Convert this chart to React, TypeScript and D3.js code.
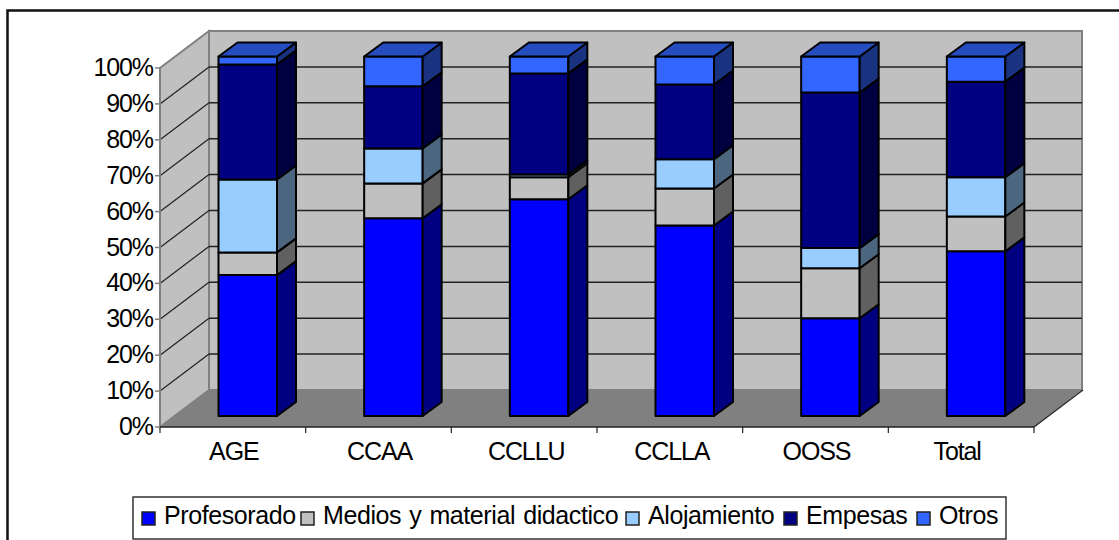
import React from 'react';
import * as d3 from 'd3';

const categories = ['AGE', 'CCAA', 'CCLLU', 'CCLLA', 'OOSS', 'Total'];
const seriesNames = ['Profesorado', 'Medios y material didactico', 'Alojamiento', 'Empesas', 'Otros'];
const profesorado = [39.2, 55, 60.3, 53, 27.2, 45.8];
const medios = [6.3, 9.7, 6.1, 10.3, 13.9, 9.7];
const alojamiento = [20.3, 9.7, 0.8, 8.1, 5.6, 10.9];
const empresas = [32, 17.3, 28.1, 20.8, 43.3, 26.6];
const otros = [2.2, 8.3, 4.7, 7.8, 10, 7];
const seriesValues = [profesorado, medios, alojamiento, empresas, otros];
const yTicks = d3.range(0, 101, 10);

const faceColors = ['#0000ff', '#c0c0c0', '#99ccff', '#000080', '#3366ff'];
const sideColors = ['#000080', '#606060', '#4d6680', '#000040', '#1a3380'];
const topColor = '#264dbf';

const font = '"Liberation Sans", Arial, sans-serif';
const W = 1119;
const H = 540;

// front edge of the floor, the walls sit behind it by wallDx / wallDy
const left = 160;
const right = 1034;
const floorY = 427;
const topY = 68;
const wallDx = 49;
const wallDy = 37;
// bars stand a bit inside the floor
const barBase = 416;
const barTop = 56.5;
const barInset = 58.5;
const barWidth = 58.5;
const barDx = 19;
const barDy = 14;

const pts = (p: number[][]) => p.map((d) => d.join(',')).join(' ');

function Walls() {
  const y = d3.scaleLinear().domain([0, 100]).range([floorY, topY]);
  const backY = d3.scaleLinear().domain([0, 100]).range([floorY - wallDy, topY - wallDy]);
  const backL = left + wallDx;
  const backR = right + wallDx - 1;
  return (
    <g>
      <polygon
        points={pts([[backL, backY(0)], [backR, backY(0)], [backR, backY(100)], [backL, backY(100)]])}
        fill="#c0c0c0" stroke="#808080" strokeWidth={2}
      />
      <polygon
        points={pts([[left, y(0)], [backL, backY(0)], [backL, backY(100)], [left, y(100)]])}
        fill="#c0c0c0" stroke="#808080" strokeWidth={2}
      />
      <polygon
        points={pts([[left, y(0)], [right, y(0)], [backR, backY(0)], [backL, backY(0)]])}
        fill="#808080"
      />
      {yTicks.filter((t) => t > 0 && t < 100).map((t) => (
        <line key={t} x1={backL} x2={backR} y1={backY(t)} y2={backY(t)} stroke="#222" strokeWidth={1.5} />
      ))}
      {yTicks.filter((t) => t > 0 && t < 100).map((t) => (
        <line key={t} x1={left} x2={backL} y1={y(t)} y2={backY(t)} stroke="#222" strokeWidth={1.2} />
      ))}
    </g>
  );
}

function Bars() {
  const x = d3.scaleBand().domain(categories).range([left, right]);
  const y = d3.scaleLinear().domain([0, 100]).range([barBase, barTop]);
  const stacked = d3.stack<number>()
    .keys(seriesNames.map((_, i) => i) as any)
    .value((d, k) => seriesValues[k as any][d])(categories.map((_, i) => i));

  return (
    <g stroke="#000" strokeWidth={2} strokeLinejoin="round">
      {categories.map((c, ci) => {
        const x0 = (x(c) as number) + barInset;
        const x1 = x0 + barWidth;
        const last = stacked[stacked.length - 1][ci][1];
        return (
          <g key={c}>
            {stacked.map((s, si) => {
              const y0 = y(s[ci][0]);
              const y1 = y(s[ci][1]);
              return (
                <g key={si}>
                  <rect x={x0} y={y1} width={barWidth} height={y0 - y1} fill={faceColors[si]} />
                  <polygon
                    points={pts([[x1, y0], [x1 + barDx, y0 - barDy], [x1 + barDx, y1 - barDy], [x1, y1]])}
                    fill={sideColors[si]}
                  />
                </g>
              );
            })}
            <polygon
              points={pts([[x0, y(last)], [x1, y(last)], [x1 + barDx, y(last) - barDy], [x0 + barDx, y(last) - barDy]])}
              fill={topColor}
            />
          </g>
        );
      })}
    </g>
  );
}

// small shifts so the category labels sit where the reference has them
const labelNudge = [1, 1, 2, 2, 1, -4];

function Axes() {
  const x = d3.scaleBand().domain(categories).range([left, right]);
  const y = d3.scaleLinear().domain([0, 100]).range([floorY, topY]);
  const ticksX = [...categories.map((c) => x(c) as number), right];
  return (
    <g>
      <line x1={left} x2={left} y1={topY} y2={floorY} stroke="#808080" strokeWidth={2} />
      <line x1={left} x2={right} y1={floorY} y2={floorY} stroke="#222" strokeWidth={1.5} />
      <line x1={right} x2={right + wallDx} y1={floorY} y2={floorY - wallDy} stroke="#222" strokeWidth={1.2} />
      {ticksX.map((t) => (
        <line key={t} x1={t} x2={t} y1={floorY} y2={floorY + 6} stroke="#222" strokeWidth={1.2} />
      ))}
      {yTicks.map((t) => (
        <g key={t}>
          <line x1={left - 5} x2={left} y1={y(t)} y2={y(t)} stroke="#808080" strokeWidth={1.5} />
          <text x={left - 7} y={y(t) + 8} textAnchor="end" fontSize={25} letterSpacing={-1.1} fontFamily={font} fill="#000">
            {t}%
          </text>
        </g>
      ))}
      {categories.map((c, i) => (
        <text
          key={c}
          x={(x(c) as number) + x.bandwidth() / 2 + labelNudge[i]}
          y={460}
          textAnchor="middle"
          fontSize={25}
          letterSpacing={-1.1}
          fontFamily={font}
          fill="#000"
        >
          {c}
        </text>
      ))}
    </g>
  );
}

// left edge of each legend swatch, its text starts 22px further on
const legendX = [142, 301, 626, 784, 917];

function Legend() {
  return (
    <g>
      <rect x={133} y={497} width={873} height={42} fill="#fff" stroke="#333" strokeWidth={1.5} />
      {seriesNames.map((s, i) => (
        <g key={s}>
          <rect x={legendX[i]} y={512} width={13} height={13} fill={faceColors[i]} stroke="#222" strokeWidth={1.5} />
          <text
            x={legendX[i] + 22}
            y={524}
            fontSize={25}
            letterSpacing={-0.4}
            wordSpacing={1.5}
            fontFamily={font}
            fill="#000"
          >
            {s}
          </text>
        </g>
      ))}
    </g>
  );
}

export default function App() {
  return (
    <svg
      width={W}
      height={H}
      viewBox={`0 0 ${W} ${H}`}
      style={{ position: 'absolute', left: 0, top: 0, background: '#fff' }}
    >
      <path d={`M7.5 ${H} V10.5 H${W}`} fill="none" stroke="#111" strokeWidth={2.5} />
      <Walls />
      <Bars />
      <Axes />
      <Legend />
    </svg>
  );
}
